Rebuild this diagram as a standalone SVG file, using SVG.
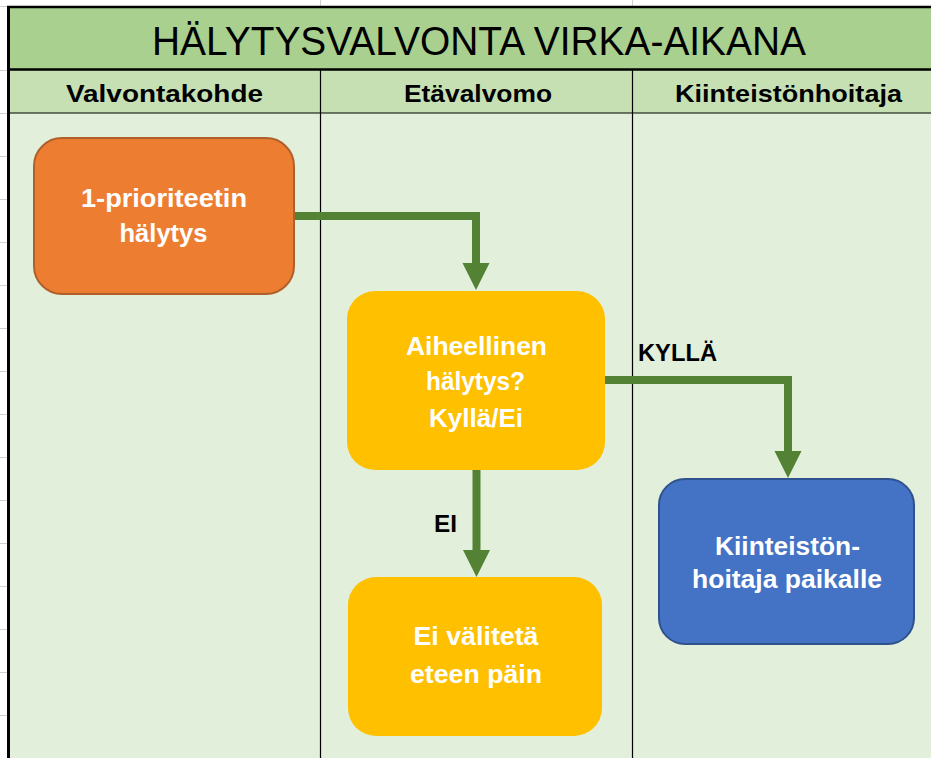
<svg xmlns="http://www.w3.org/2000/svg" width="931" height="758" viewBox="0 0 931 758">
  <style>
    .grid { stroke: #D0D0D0; stroke-width: 1; }
    .ntext { font-family: "Liberation Sans", Arial, sans-serif; font-weight: bold; fill: #FFFFFF; font-size: 26px; text-anchor: middle; }
    .htext { font-family: "Liberation Sans", Arial, sans-serif; font-weight: bold; fill: #000000; font-size: 24px; }
    .lbl { font-family: "Liberation Sans", Arial, sans-serif; font-weight: bold; fill: #000000; font-size: 24px; }
    .conn { fill: none; stroke: #548235; stroke-width: 8; stroke-linejoin: miter; marker-end: url(#arrow); }
  </style>
  <defs>
    <marker id="arrow" markerUnits="userSpaceOnUse" markerWidth="28" markerHeight="28" refX="0" refY="13.5" orient="auto" viewBox="0 0 28 27">
      <path d="M0,0 L27,13.5 L0,27 Z" fill="#548235"/>
    </marker>
  </defs>

  <!-- background -->
  <rect x="0" y="0" width="931" height="758" fill="#FFFFFF"/>
  <g id="gridlines">
    <line class="grid" x1="320.5" y1="0" x2="320.5" y2="7"/>
    <line class="grid" x1="632.5" y1="0" x2="632.5" y2="7"/>
    <line class="grid" x1="0" y1="6.5" x2="8" y2="6.5"/>
    <line class="grid" x1="0" y1="70.5" x2="8" y2="70.5"/>
    <line class="grid" x1="0" y1="113.5" x2="8" y2="113.5"/>
    <line class="grid" x1="0" y1="156.5" x2="8" y2="156.5"/>
    <line class="grid" x1="0" y1="199.5" x2="8" y2="199.5"/>
    <line class="grid" x1="0" y1="242.5" x2="8" y2="242.5"/>
    <line class="grid" x1="0" y1="285.5" x2="8" y2="285.5"/>
    <line class="grid" x1="0" y1="328.5" x2="8" y2="328.5"/>
    <line class="grid" x1="0" y1="371.5" x2="8" y2="371.5"/>
    <line class="grid" x1="0" y1="414.5" x2="8" y2="414.5"/>
    <line class="grid" x1="0" y1="457.5" x2="8" y2="457.5"/>
    <line class="grid" x1="0" y1="500.5" x2="8" y2="500.5"/>
    <line class="grid" x1="0" y1="543.5" x2="8" y2="543.5"/>
    <line class="grid" x1="0" y1="586.5" x2="8" y2="586.5"/>
    <line class="grid" x1="0" y1="629.5" x2="8" y2="629.5"/>
    <line class="grid" x1="0" y1="672.5" x2="8" y2="672.5"/>
    <line class="grid" x1="0" y1="715.5" x2="8" y2="715.5"/>
  </g>

  <!-- swimlane frame -->
  <g id="title">
    <rect x="8" y="7" width="923" height="63" fill="#A9D08E"/>
    <text x="152" y="55" font-family="Liberation Sans, Arial, sans-serif" font-size="40" fill="#000000" textLength="654" lengthAdjust="spacingAndGlyphs">HÄLYTYSVALVONTA VIRKA-AIKANA</text>
  </g>
  <g id="header">
    <rect x="8" y="70" width="923" height="43" fill="#C6E0B4"/>
    <text class="htext" x="66" y="102" textLength="197" lengthAdjust="spacingAndGlyphs">Valvontakohde</text>
    <text class="htext" x="404" y="102" textLength="148" lengthAdjust="spacingAndGlyphs">Etävalvomo</text>
    <text class="htext" x="675" y="102" textLength="227" lengthAdjust="spacingAndGlyphs">Kiinteistönhoitaja</text>
  </g>
  <g id="lanes">
    <rect x="8" y="113" width="923" height="645" fill="#E2EFDA"/>
    <line x1="320.5" y1="70" x2="320.5" y2="758" stroke="#000000" stroke-width="1.2"/>
    <line x1="632.5" y1="70" x2="632.5" y2="758" stroke="#000000" stroke-width="1.2"/>
    <line x1="8" y1="113" x2="931" y2="113" stroke="#000000" stroke-width="1.2"/>
    <line x1="8" y1="69.5" x2="931" y2="69.5" stroke="#000000" stroke-width="2.5"/>
    <line x1="7" y1="7" x2="931" y2="7" stroke="#000000" stroke-width="2.5"/>
    <line x1="8.5" y1="6" x2="8.5" y2="758" stroke="#000000" stroke-width="3"/>
  </g>

  <!-- connectors -->
  <g id="connectors">
    <path class="conn" d="M294,216 H476 V263"/>
    <path class="conn" d="M605,380 H788 V451"/>
    <path class="conn" d="M476.5,470 V550"/>
    <text class="lbl" x="638" y="361" textLength="79" lengthAdjust="spacingAndGlyphs">KYLLÄ</text>
    <text class="lbl" x="434" y="532" textLength="23" lengthAdjust="spacingAndGlyphs">EI</text>
  </g>

  <!-- nodes -->
  <g id="node-halytys">
    <rect x="34" y="138" width="260" height="156" rx="28" ry="28" fill="#ED7D31" stroke="#B0602A" stroke-width="2"/>
    <text class="ntext" x="164" y="207" textLength="166" lengthAdjust="spacingAndGlyphs">1-prioriteetin</text>
    <text class="ntext" x="163.5" y="242" textLength="88" lengthAdjust="spacingAndGlyphs">hälytys</text>
  </g>
  <g id="node-aiheellinen">
    <rect x="347" y="291" width="258" height="179" rx="28" ry="28" fill="#FFC000"/>
    <text class="ntext" x="476.5" y="355" textLength="141" lengthAdjust="spacingAndGlyphs">Aiheellinen</text>
    <text class="ntext" x="475.5" y="390" textLength="99" lengthAdjust="spacingAndGlyphs">hälytys?</text>
    <text class="ntext" x="476" y="427" textLength="94" lengthAdjust="spacingAndGlyphs">Kyllä/Ei</text>
  </g>
  <g id="node-kiinteistonhoitaja">
    <rect x="659" y="479" width="255" height="165" rx="26" ry="26" fill="#4472C4" stroke="#2F528F" stroke-width="2"/>
    <text class="ntext" x="787.5" y="555" textLength="145" lengthAdjust="spacingAndGlyphs">Kiinteistön-</text>
    <text class="ntext" x="787" y="588" textLength="190" lengthAdjust="spacingAndGlyphs">hoitaja paikalle</text>
  </g>
  <g id="node-ei-valiteta">
    <rect x="348" y="577" width="254" height="159" rx="28" ry="28" fill="#FFC000"/>
    <text class="ntext" x="476" y="645" textLength="125" lengthAdjust="spacingAndGlyphs">Ei välitetä</text>
    <text class="ntext" x="476" y="683" textLength="132" lengthAdjust="spacingAndGlyphs">eteen päin</text>
  </g>
</svg>
